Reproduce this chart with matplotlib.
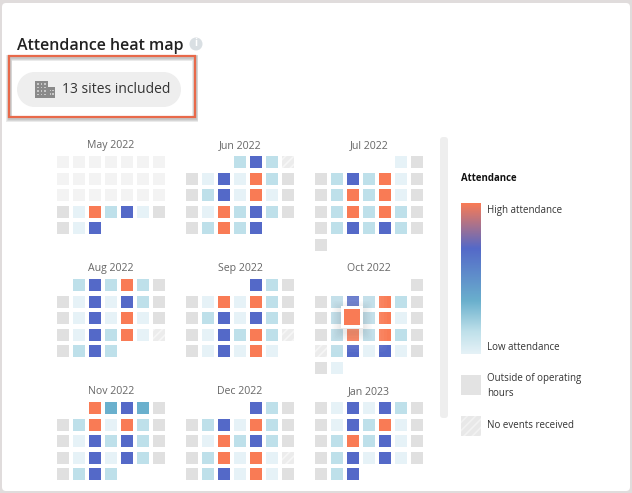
# -*- coding: utf-8 -*-
import numpy as np
import matplotlib
matplotlib.use('Agg')
import matplotlib.pyplot as plt
from matplotlib.colors import LinearSegmentedColormap
from matplotlib.patches import Rectangle, FancyBboxPatch, Circle

plt.rcParams['font.family'] = ['Open Sans', 'DejaVu Sans']
plt.rcParams['hatch.linewidth'] = 1.2

# cell codes: 0 none, 1 no data yet, 2 closed, 3 no events, 4 low .. 8 high
months = ['May 2022', 'Jun 2022', 'Jul 2022',
          'Aug 2022', 'Sep 2022', 'Oct 2022',
          'Nov 2022', 'Dec 2022', 'Jan 2023']
may = [[1, 1, 1, 1, 1, 1, 1], [1, 1, 1, 1, 1, 1, 1], [1, 1, 1, 1, 1, 1, 1],
       [2, 4, 8, 5, 7, 4, 2], [2, 4, 7, 0, 0, 0, 0]]
jun = [[0, 0, 0, 5, 7, 5, 3], [2, 4, 7, 4, 8, 5, 2], [2, 5, 7, 4, 8, 4, 2],
       [2, 4, 8, 5, 7, 5, 2], [2, 5, 8, 5, 7, 0, 0]]
jul = [[0, 0, 0, 0, 0, 4, 2], [2, 5, 7, 5, 8, 4, 2], [2, 5, 8, 5, 8, 4, 2],
       [2, 5, 8, 5, 8, 5, 2], [2, 5, 7, 5, 7, 5, 2], [2, 0, 0, 0, 0, 0, 0]]
aug = [[0, 5, 7, 5, 8, 5, 2], [2, 4, 7, 4, 7, 5, 2], [2, 4, 7, 4, 8, 4, 2],
       [2, 4, 7, 5, 8, 4, 3], [2, 5, 7, 5, 0, 0, 0]]
sep = [[0, 0, 0, 0, 7, 5, 2], [2, 4, 8, 4, 8, 5, 2], [2, 5, 7, 4, 7, 5, 2],
       [2, 4, 7, 5, 8, 5, 3], [2, 4, 7, 4, 8, 4, 0]]
oct_ = [[0, 0, 0, 0, 0, 0, 2], [2, 5, 7, 5, 8, 5, 2], [2, 5, 8, 5, 8, 4, 2],
        [2, 5, 8, 5, 8, 5, 2], [3, 5, 7, 4, 7, 4, 2], [2, 4, 0, 0, 0, 0, 0]]
nov = [[0, 0, 8, 6, 7, 6, 2], [2, 5, 8, 4, 8, 5, 2], [2, 4, 7, 5, 7, 5, 2],
       [2, 4, 7, 4, 7, 5, 2], [2, 5, 7, 5, 0, 0, 0]]
dec = [[0, 0, 0, 0, 7, 5, 2], [2, 5, 7, 4, 8, 5, 2], [2, 4, 8, 5, 7, 5, 2],
       [2, 5, 8, 4, 8, 4, 3], [2, 5, 7, 4, 8, 4, 2]]
jan = [[2, 4, 7, 4, 7, 5, 2], [2, 4, 7, 5, 8, 4, 2], [2, 5, 8, 5, 7, 4, 2],
       [2, 5, 7, 4, 7, 4, 2], [2, 5, 7, 0, 0, 0, 0]]
grids = [may, jun, jul, aug, sep, oct_, nov, dec, jan]

colors = {1: '#f3f3f3', 2: '#e0e0e0', 3: '#ececec', 4: '#e6f2f7',
          5: '#bee0ea', 6: '#6ab0cd', 7: '#5469c8', 8: '#f97b55'}
grad_stops = [(0.0, '#e6f2f7'), (0.15, '#bee0ea'), (0.35, '#6ab0cd'),
              (0.70, '#5469c8'), (1.0, '#f97b55')]

col_x = [57, 186, 315]
row_y = [156, 279, 402]
pitch_x = 16
pitch_y = 16.5
cell = 12

fig = plt.figure(figsize=(6.32, 4.93), dpi=100, facecolor='#e0dcdc')
ax = fig.add_axes([0, 0, 1, 1])
ax.set_xlim(0, 632)
ax.set_ylim(493, 0)
ax.axis('off')

# card
ax.add_patch(FancyBboxPatch((5, 6), 622, 482, boxstyle='round,pad=3,rounding_size=4',
                            fc='white', ec='none', zorder=0))

# header
ax.text(17, 45.5, 'Attendance heat map', fontsize=11.5, fontweight=600, color='#222222',
        va='center', ha='left')
ax.add_patch(Circle((196, 44), 6.5, fc='#d9dfe3', ec='none'))
ax.text(196, 44, 'i', fontsize=7, fontweight='bold', color='white', va='center', ha='center')

# pill with building icon
ax.add_patch(Rectangle((34.5, 72), 129, 35, fc='#eeeeee', ec='none', zorder=1))
ax.add_patch(Circle((34.5, 89.5), 17.5, fc='#eeeeee', ec='none', zorder=1))
ax.add_patch(Circle((163.5, 89.5), 17.5, fc='#eeeeee', ec='none', zorder=1))
ax.add_patch(Rectangle((35, 81), 13, 17, fc='#8a8a8a', ec='none', zorder=2))
ax.add_patch(Rectangle((48, 87), 7, 11, fc='#8a8a8a', ec='none', zorder=2))
for wx in [37, 40.5, 44]:
    for wy in [83, 86.5, 90, 93.5]:
        ax.add_patch(Rectangle((wx, wy), 1.6, 1.6, fc='#c8c8c8', ec='none', zorder=3))
for wx in [49.5, 52]:
    for wy in [89.5, 93]:
        ax.add_patch(Rectangle((wx, wy), 1.5, 1.5, fc='#c8c8c8', ec='none', zorder=3))
ax.text(62, 89.5, '13 sites included', fontsize=10, color='#333333', va='center', ha='left', zorder=3)

# red highlight box, soft shadow first
for i in range(4):
    ax.add_patch(Rectangle((8.5, 56 + i * 0.6), 186, 61, fc='none', ec='#555555',
                           lw=1.6 + i * 0.9, alpha=0.12, zorder=3))
ax.add_patch(Rectangle((8.5, 55.5), 186, 61, fc='none', ec='#e8694a', lw=1.6, zorder=4))

# months
for m, (name, grid) in enumerate(zip(months, grids)):
    x0 = col_x[m % 3]
    y0 = row_y[m // 3]
    ax.text(x0 + 54, y0 - 10.5, name, fontsize=7.6, color='#666666', va='center', ha='center')
    for r, row in enumerate(grid):
        for c, code in enumerate(row):
            if code == 0:
                continue
            x = x0 + c * pitch_x
            y = y0 + r * pitch_y
            ax.add_patch(Rectangle((x, y), cell, cell, fc=colors[code], ec='none', zorder=2))
            if code == 3:
                ax.add_patch(Rectangle((x, y), cell, cell, fc='none', ec='#f6f6f6', hatch='////',
                                       lw=0, zorder=2.1))

# hovered cell in Oct: haze, shadow, white frame, bigger orange square
for i in range(8):
    s = 70 - i * 6
    ax.add_patch(FancyBboxPatch((352 - s / 2 + 3, 317 - s / 2 + 3), s - 6, s - 6,
                                boxstyle='round,pad=3,rounding_size=6', fc='white', ec='none',
                                alpha=0.03, zorder=5))
for i in range(7):
    s = 40 - i * 2.5
    ax.add_patch(FancyBboxPatch((352 - s / 2 + 3, 321 - s / 2 + 3), s - 6, s - 6,
                                boxstyle='round,pad=3,rounding_size=4', fc='black', ec='none',
                                alpha=0.012, zorder=5.1))
ax.add_patch(Rectangle((341, 306), 22, 22, fc='white', ec='none', zorder=6))
ax.add_patch(Rectangle((344, 309), 16, 16, fc=colors[8], ec='none', zorder=7))

# scrollbar
ax.add_patch(FancyBboxPatch((442, 139), 4, 277, boxstyle='round,pad=2,rounding_size=3',
                            fc='#eeeeee', ec='none', zorder=1))

# legend
ax.text(461, 178.5, 'Attendance', fontsize=6.9, fontweight='bold', color='#111111', va='center', ha='left')
grad = np.linspace(1, 0, 256).reshape(-1, 1)
cmap = LinearSegmentedColormap.from_list('att', grad_stops)
ax.imshow(grad, cmap=cmap, vmin=0, vmax=1, extent=(461, 481, 354, 203), aspect='auto', zorder=2)
ax.set_xlim(0, 632)
ax.set_ylim(493, 0)
ax.text(487, 211, 'High attendance', fontsize=7.05, color='#333333', va='center', ha='left')
ax.text(487, 347, 'Low attendance', fontsize=7.05, color='#333333', va='center', ha='left')
ax.add_patch(Rectangle((461, 375), 20, 20, fc='#e3e3e3', ec='none', zorder=2))
ax.text(487, 378.5, 'Outside of operating', fontsize=7.05, color='#333333', va='center', ha='left')
ax.text(487, 393, 'hours', fontsize=7.05, color='#333333', va='center', ha='left')
ax.add_patch(Rectangle((461, 416), 20, 20, fc='#e8e8e8', ec='#f2f2f2', hatch='////', lw=0, zorder=2))
ax.text(487, 425.5, 'No events received', fontsize=7.05, color='#333333', va='center', ha='left')

fig.savefig('out.png', dpi=100, facecolor=fig.get_facecolor())
